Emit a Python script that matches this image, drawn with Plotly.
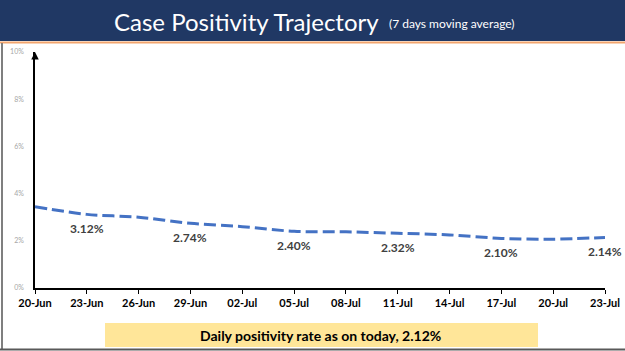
import plotly.graph_objects as go
import pandas as pd

dates = ["2020-06-20", "2020-06-23", "2020-06-26", "2020-06-29", "2020-07-02", "2020-07-05",
         "2020-07-08", "2020-07-11", "2020-07-14", "2020-07-17", "2020-07-20", "2020-07-23"]
positivity = [3.44, 3.12, 3.00, 2.74, 2.60, 2.40, 2.38, 2.32, 2.25, 2.10, 2.07, 2.14]
label_dates = ["2020-06-23", "2020-06-29", "2020-07-05", "2020-07-11", "2020-07-17", "2020-07-23"]
label_values = [3.12, 2.74, 2.40, 2.32, 2.10, 2.14]
y_ticks = [0, 2, 4, 6, 8, 10]
title_main = "Case Positivity Trajectory"
title_sub = "(7 days moving average)"
footer_text = "Daily positivity rate as on today, 2.12%"

W, H = 625, 351
def px(x): return x / W
def py(y): return 1 - y / H

fig = go.Figure()
fig.add_trace(go.Scatter(
    x=pd.to_datetime(dates), y=[v / 100 for v in positivity], mode="lines",
    line=dict(color="#4472C4", width=3, dash="12px,5px", shape="spline", smoothing=0.8),
    hoverinfo="skip", showlegend=False))

shapes = [
    dict(type="rect", xref="paper", yref="paper", x0=0, x1=1, y0=py(41), y1=1,
         fillcolor="#203864", line=dict(width=0), layer="below"),
    dict(type="line", xref="paper", yref="paper", x0=0, x1=1, y0=py(42.5), y1=py(42.5),
         line=dict(color="#F2A56E", width=2)),
    dict(type="line", xref="paper", yref="paper", x0=px(2), x1=px(2), y0=py(350), y1=py(43),
         line=dict(color="#7F7F7F", width=2)),
    dict(type="line", xref="paper", yref="paper", x0=0, x1=1, y0=py(349.5), y1=py(349.5),
         line=dict(color="#595959", width=2)),
    dict(type="rect", xref="paper", yref="paper", x0=px(105), x1=px(538), y0=py(347), y1=py(323),
         fillcolor="#FFE699", line=dict(width=0), layer="below"),
]

annotations = [
    dict(xref="paper", yref="paper", x=px(112), y=py(21), text=title_main, showarrow=False,
         xanchor="left", yanchor="middle", font=dict(family="Lato", size=24, color="white")),
    dict(xref="paper", yref="paper", x=px(387), y=py(23), text=title_sub, showarrow=False,
         xanchor="left", yanchor="middle", font=dict(family="Lato", size=12, color="white")),
    dict(xref="paper", yref="paper", x=px(321), y=py(335), text=footer_text, showarrow=False,
         xanchor="center", yanchor="middle", font=dict(family="Lato", size=14, color="black", weight="bold")),
    dict(x=pd.to_datetime(dates[0]), y=0.1, xref="x", yref="y", text="", showarrow=True,
         ax=0, ay=8, arrowhead=2, arrowsize=1, arrowwidth=1.5, arrowcolor="black"),
]
for d, v in zip(label_dates, label_values):
    annotations.append(dict(x=pd.to_datetime(d), y=v / 100, xref="x", yref="y",
                            text=f"{v:.2f}%", showarrow=False, yshift=-14,
                            font=dict(family="Lato", size=12, color="#404040", weight="bold")))

fig.update_layout(
    width=W, height=H, margin=dict(l=0, r=0, t=0, b=0),
    paper_bgcolor="white", plot_bgcolor="white",
    shapes=shapes, annotations=annotations,
    xaxis=dict(domain=[px(35), px(605)], range=[pd.to_datetime(dates[0]), pd.to_datetime(dates[-1])],
               tickvals=pd.to_datetime(dates), tickformat="%d-%b", showgrid=False, zeroline=False,
               showline=True, linecolor="black", linewidth=1.5, ticks="outside", ticklen=4,
               tickcolor="black", tickwidth=1, automargin=False,
               tickfont=dict(family="Lato", size=11, color="black", weight="bold")),
    yaxis=dict(domain=[py(288), py(52)], range=[0, 0.1], tickvals=[t / 100 for t in y_ticks],
               ticktext=[f"{t}%" for t in y_ticks], showgrid=False, zeroline=False,
               showline=True, linecolor="black", linewidth=1.5, ticks="", automargin=False,
               ticklabelstandoff=8,
               tickfont=dict(family="Lato", size=7, color="#A6A6A6")),
)
fig.write_html("out.html")
